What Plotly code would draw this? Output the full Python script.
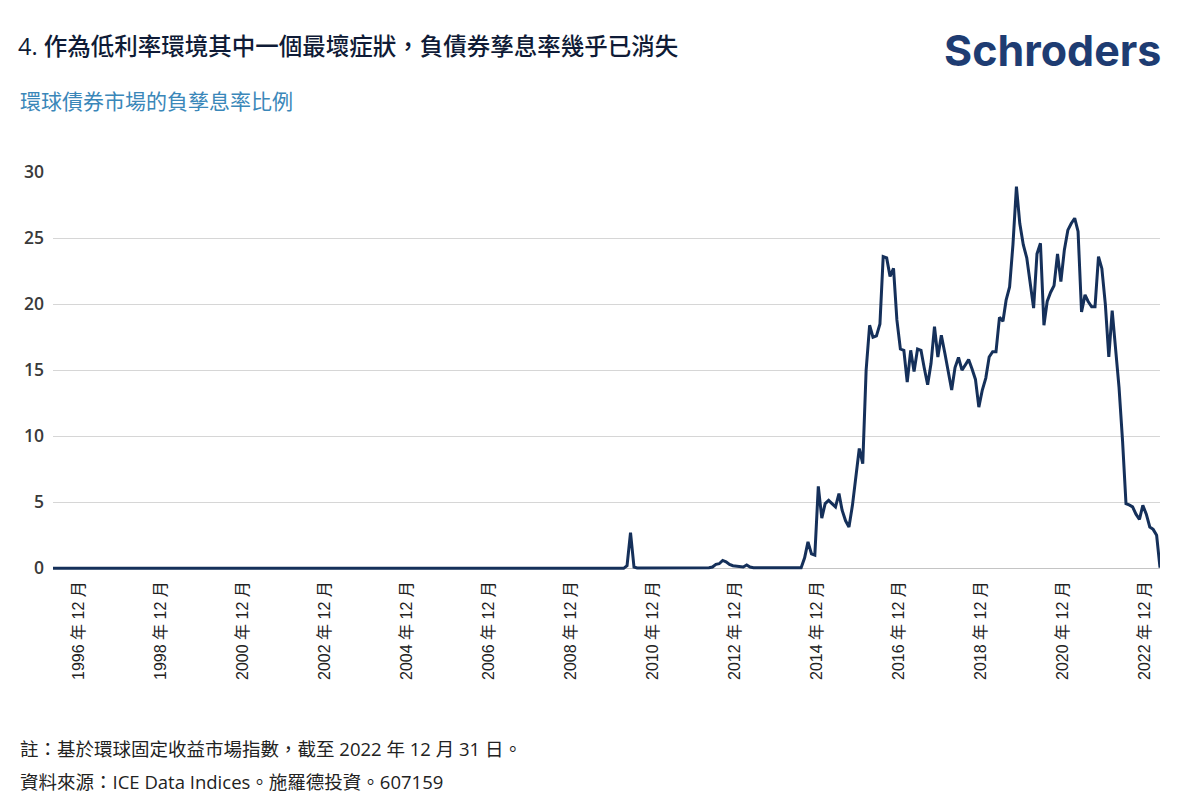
import pandas as pd
import plotly.graph_objects as go

# ---------------- data ----------------
start_month = "1995-12-01"

# share (%) of global bond market with negative yield, monthly, first value = 1995-12
values_1995 = [0.0]
values_1996_2008 = [0.0] * (12 * 13)          # flat at zero all through 1996-2008
values_2009 = [0, 0, 0, 0, 0, 0, 0, 0, 0, 0, 0, 0.2]
values_2010 = [2.7, 0.1, 0.03, 0.03, 0.03, 0.03, 0.03, 0.03, 0.03, 0.03, 0.03, 0.03]
values_2011 = [0.03, 0.03, 0.03, 0.03, 0.03, 0.03, 0.03, 0.03, 0.03, 0.03, 0.03, 0.05]
values_2012 = [0.1, 0.3, 0.35, 0.6, 0.5, 0.3, 0.2, 0.15, 0.1, 0.1, 0.25, 0.1]
values_2013 = [0.05, 0.05, 0.05, 0.05, 0.05, 0.05, 0.05, 0.05, 0.05, 0.05, 0.05, 0.05]
values_2014 = [0.05, 0.05, 0.05, 0.8, 2.0, 1.1, 1.0, 6.2, 3.8, 4.9, 5.15, 4.9]
values_2015 = [4.65, 5.66, 4.4, 3.6, 3.13, 4.77, 6.8, 9.07, 7.93, 15.0, 18.4, 17.5]
values_2016 = [17.6, 18.5, 23.6, 23.5, 22.1, 22.7, 18.8, 16.6, 16.5, 14.1, 16.5, 14.9]
values_2017 = [16.6, 16.5, 15.2, 13.9, 15.5, 18.3, 16.0, 17.65, 16.3, 14.9, 13.5, 15.2]
values_2018 = [15.96, 15.0, 15.4, 15.8, 15.1, 14.3, 12.2, 13.5, 14.4, 16.0, 16.4, 16.4]
values_2019 = [19.0, 18.7, 20.3, 21.3, 24.5, 28.9, 26.1, 24.5, 23.5, 21.6, 19.7, 23.8]
values_2020 = [24.6, 18.4, 20.2, 20.9, 21.4, 23.8, 21.7, 24.1, 25.6, 26.1, 26.5, 25.5]
values_2021 = [19.4, 20.7, 20.2, 19.8, 19.8, 23.6, 22.7, 20.0, 16.0, 19.5, 16.5, 13.7]
values_2022 = [9.7, 4.9, 4.8, 4.65, 4.1, 3.7, 4.77, 4.1, 3.13, 2.95, 2.5, 0.05]

neg_yield_share = (values_1995 + values_1996_2008 + values_2009 + values_2010 + values_2011
                   + values_2012 + values_2013 + values_2014 + values_2015 + values_2016
                   + values_2017 + values_2018 + values_2019 + values_2020 + values_2021
                   + values_2022)
months = pd.date_range(start_month, periods=len(neg_yield_share), freq="MS")

tick_years = [1996, 1998, 2000, 2002, 2004, 2006, 2008, 2010, 2012, 2014, 2016, 2018, 2020, 2022]
tick_dates = [f"{y}-12-01" for y in tick_years]
tick_labels = [f"{y} 年 12 月" for y in tick_years]
y_ticks = [0, 5, 10, 15, 20, 25, 30]

title_text = "4. 作為低利率環境其中一個最壞症狀，負債券孳息率幾乎已消失"
subtitle_text = "環球債券市場的負孳息率比例"
note_text = "註：基於環球固定收益市場指數，截至 2022 年 12 月 31 日。"
source_text = "資料來源：ICE Data Indices。施羅德投資。607159"
logo_text = "Schroders"

# ---------------- figure ----------------
W, H = 1200, 811
L, R, T, B = 53, 40, 172, 240
pw, ph = W - L - R, H - T - B


def px_x(px):
    return (px - L) / pw


def px_y(py):
    return (H - B - py) / ph


cjk = "Noto Sans CJK TC"
fig = go.Figure()
fig.add_trace(go.Scatter(
    x=months, y=neg_yield_share, mode="lines",
    line=dict(color="#15305a", width=3),
    hoverinfo="x+y", showlegend=False,
))

fig.update_layout(
    width=W, height=H,
    margin=dict(l=L, r=R, t=T, b=B),
    paper_bgcolor="white", plot_bgcolor="white",
    title=dict(
        text=title_text, xref="container", yref="container",
        x=18 / W, xanchor="left", y=1 - 47 / H, yanchor="middle",
        font=dict(family=f"Open Sans, {cjk}", size=23.5, color="#0f1b36", weight=500),
    ),
    xaxis=dict(
        range=[start_month, "2022-12-01"],
        tickmode="array", tickvals=tick_dates, ticktext=tick_labels,
        tickangle=-90, showgrid=False, showline=False, zeroline=False,
        ticks="", ticklabelshift=-15, ticklabelstandoff=6,
        tickfont=dict(family=f"Liberation Sans, {cjk}", size=16, color="#222222"),
    ),
    yaxis=dict(
        range=[-0.2, 30], tickmode="array", tickvals=y_ticks,
        showgrid=True, gridcolor="#d6d6d6", gridwidth=1.3,
        zeroline=True, zerolinecolor="#c4c4c4", zerolinewidth=1.3,
        showline=False, ticks="", ticklabelstandoff=8,
        tickfont=dict(family="Open Sans", size=17.5, color="#3a3a3a", weight=600),
    ),
)

annotations = [
    dict(text=subtitle_text, x=px_x(18), y=px_y(101), xanchor="left", yanchor="middle",
         font=dict(family=f"Open Sans, {cjk}", size=21, color="#3a87b9")),
    dict(text=f"<b>{logo_text}</b>", x=px_x(1163), y=px_y(50), xanchor="right", yanchor="middle",
         font=dict(family="Inter", size=43, color="#1e3c72")),
    dict(text=note_text, x=px_x(18), y=px_y(748), xanchor="left", yanchor="middle",
         font=dict(family=f"Open Sans, {cjk}", size=18.5, color="#222222")),
    dict(text=source_text, x=px_x(18), y=px_y(781), xanchor="left", yanchor="middle",
         font=dict(family=f"Open Sans, {cjk}", size=18.5, color="#222222")),
]
for a in annotations:
    a.update(xref="paper", yref="paper", showarrow=False)
fig.update_layout(annotations=annotations)

fig.write_html("out.html")
